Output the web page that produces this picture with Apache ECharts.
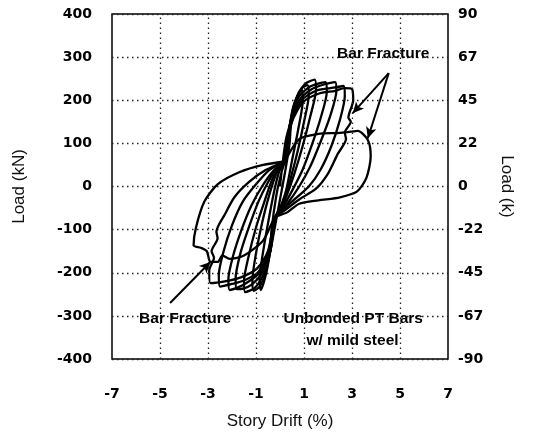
<!DOCTYPE html>
<html>
<head>
<meta charset="utf-8">
<script src="https://cdn.jsdelivr.net/npm/echarts@6/dist/echarts.min.js"></script>
<style>
html,body{margin:0;padding:0;background:#fff;}
#chart{width:534px;height:445px;}
</style>
</head>
<body>
<div id="chart"></div>
<script>
// ---- data (story drift %, load kN) ----
const cycle1 = [[0,0],[0.1,50],[0.25,110],[0.45,150],[0.4,100],[0.2,30],[0,-30],[-0.2,-90],[-0.4,-150],[-0.35,-100],[-0.15,-20],[0.05,30],[0.2,58]];
const cycle2 = [[0.2,58],[0.35,120],[0.55,185],[0.9,225],[0.95,200],[0.75,130],[0.5,60],[0.25,-10],[0,-50],[-0.2,-72],[-0.35,-130],[-0.55,-195],[-0.8,-240],[-0.85,-215],[-0.7,-150],[-0.45,-70],[-0.2,0],[0,40],[0.2,58]];
const cycle3a = [[0.2,58],[0.38,130],[0.62,195],[0.9,228],[1.15,235],[1.2,212],[1.0,150],[0.75,85],[0.45,20],[0.15,-35],[-0.2,-72],[-0.38,-140],[-0.6,-200],[-0.85,-232],[-1.1,-242],[-1.15,-218],[-1.0,-155],[-0.75,-85],[-0.45,-20],[-0.15,30],[0.2,58]];
const cycle3 = [[0.2,58],[0.4,140],[0.7,205],[1.05,238],[1.45,248],[1.5,225],[1.25,160],[0.95,95],[0.6,30],[0.25,-25],[0,-55],[-0.2,-72],[-0.4,-150],[-0.7,-205],[-1.05,-235],[-1.45,-245],[-1.5,-220],[-1.3,-160],[-1.0,-95],[-0.65,-35],[-0.3,20],[0,45],[0.2,58]];
const cycle4a = [[0.2,58],[0.42,145],[0.75,205],[1.2,230],[1.55,238],[1.9,242],[1.95,220],[1.7,160],[1.35,100],[0.95,40],[0.55,-5],[0.15,-45],[-0.2,-72],[-0.42,-150],[-0.8,-205],[-1.2,-228],[-1.5,-236],[-1.8,-238],[-1.85,-214],[-1.65,-155],[-1.3,-95],[-0.9,-35],[-0.5,10],[-0.1,45],[0.2,58]];
const cycle4 = [[0.2,58],[0.45,150],[0.8,200],[1.3,225],[1.8,236],[2.3,242],[2.35,222],[2.1,165],[1.7,105],[1.25,45],[0.8,0],[0.3,-40],[-0.2,-72],[-0.45,-155],[-0.85,-200],[-1.35,-222],[-1.75,-234],[-2.1,-240],[-2.15,-215],[-1.95,-160],[-1.6,-100],[-1.2,-45],[-0.75,0],[-0.3,35],[0.2,58]];
const cycle5a = [[0.2,58],[0.48,150],[0.9,200],[1.5,222],[2.1,228],[2.65,233],[2.7,210],[2.5,155],[2.15,95],[1.7,40],[1.2,0],[0.6,-30],[0.1,-55],[-0.2,-72],[-0.48,-150],[-0.9,-198],[-1.5,-218],[-2.0,-226],[-2.5,-232],[-2.55,-205],[-2.35,-150],[-2.0,-90],[-1.55,-35],[-1.0,5],[-0.45,38],[0.2,58]];
const cycle5 = [[0.2,58],[0.5,150],[0.95,195],[1.6,215],[2.3,222],[2.7,228],[3.0,226],[3.05,200],[2.85,160],[2.95,150],[2.7,125],[2.75,110],[2.4,75],[2.0,30],[1.5,-5],[0.8,-30],[0.2,-55],[-0.2,-72],[-0.5,-150],[-0.95,-190],[-1.6,-210],[-2.3,-220],[-2.9,-224],[-2.95,-195],[-2.75,-165],[-2.85,-150],[-2.6,-120],[-2.65,-105],[-2.3,-65],[-1.9,-25],[-1.3,10],[-0.6,38],[0.2,58]];
const cycle6 = [[0.2,58],[0.8,110],[1.6,122],[2.4,124],[2.82,126],[3.24,129],[3.66,108],[3.78,70],[3.6,20],[3.2,-12],[2.5,-25],[1.6,-32],[0.8,-40],[0.3,-60],[-0.2,-72],[-0.7,-125],[-1.5,-160],[-2.1,-168],[-2.4,-160],[-2.6,-175],[-2.9,-175],[-3.05,-150],[-3.3,-142],[-3.6,-136],[-3.5,-95],[-3.15,-35],[-2.6,5],[-1.7,33],[-0.7,50],[0.2,58]];
const cycles = [cycle1, cycle2, cycle3a, cycle3, cycle4a, cycle4, cycle5a, cycle5, cycle6];

const arrowTopA = [[4.53,263],[3.03,170]];
const arrowTopB = [[4.53,263],[3.66,112]];
const arrowBottom = [[-4.58,-270],[-2.9,-175]];
const arrows = [arrowTopA, arrowTopB, arrowBottom];

const noteTexts = ['Bar Fracture','Bar Fracture','Unbonded PT Bars','w/ mild steel'];
const notePoints = [[4.3,307],[-3.95,-307],[3.05,-307],[3.02,-358]];

const xGridValues = [-5,-3,-1,1,3,5];
const leftTicks = {min:-400, max:400, step:100};
const rightTicks = {min:-90, max:90, step:22.5};

// ---- chart ----
const FONT = 'Liberation Sans';
const TICKFONT = 'DejaVu Sans';
const dotted = {type:[1.5,3.5], color:'#222', width:1.3};
const chart = echarts.init(document.getElementById('chart'), null, {renderer:'canvas'});

const series = cycles.map(c => ({
  type:'line', data:c, showSymbol:false, smooth:0.25, animation:false, z:3,
  lineStyle:{color:'#000', width:2.3}
}));
series.push({
  type:'line', data:[], animation:false, z:2,
  markLine:{silent:true, symbol:'none', label:{show:false}, lineStyle:dotted, animation:false,
    data: xGridValues.map(v => ({xAxis:v}))}
});
series.push({
  type:'line', data:[], animation:false, z:4,
  markLine:{silent:true, symbol:['none','arrow'], symbolSize:[8,11], label:{show:false}, animation:false,
    lineStyle:{type:'solid', color:'#000', width:2},
    data: arrows.map(a => [{coord:a[0]},{coord:a[1]}])}
});

chart.setOption({
  backgroundColor:'#fff',
  animation:false,
  grid:{left:112, right:86, top:14, bottom:86, show:true, borderColor:'#000', borderWidth:1.5, backgroundColor:'transparent'},
  xAxis:{
    type:'value', min:-7, max:7, interval:1,
    name:'Story Drift (%)', nameLocation:'middle', nameGap:54,
    nameTextStyle:{fontFamily:FONT, fontSize:17, color:'#111'},
    axisLine:{show:false}, axisTick:{show:false}, splitLine:{show:false},
    axisLabel:{margin:28, fontFamily:TICKFONT, fontWeight:'bold', fontSize:14, color:'#000',
      formatter:v => (Math.abs(v) % 2 === 1 ? String(v) : '')}
  },
  yAxis:[{
    type:'value', min:leftTicks.min, max:leftTicks.max, interval:leftTicks.step, position:'left',
    name:'Load (kN)', nameLocation:'middle', nameGap:84,
    nameTextStyle:{fontFamily:FONT, fontSize:17, color:'#111'},
    axisLine:{show:false}, axisTick:{show:false},
    splitLine:{show:true, lineStyle:dotted},
    axisLabel:{margin:20, fontFamily:TICKFONT, fontWeight:'bold', fontSize:14, color:'#000'}
  },{
    type:'value', min:rightTicks.min, max:rightTicks.max, interval:rightTicks.step, position:'right',
    name:'Load (k)', nameLocation:'middle', nameGap:50, nameRotate:-90,
    nameTextStyle:{fontFamily:FONT, fontSize:17, color:'#111'},
    axisLine:{show:false}, axisTick:{show:false}, splitLine:{show:false},
    axisLabel:{margin:10, fontFamily:TICKFONT, fontWeight:'bold', fontSize:14, color:'#000',
      formatter:v => String(Math.trunc(v))}
  }],
  series: series
});

// annotation texts placed through the axes' scales
const graphics = notePoints.map((p, i) => {
  const px = chart.convertToPixel({xAxisIndex:0, yAxisIndex:0}, p);
  return {
    type:'text', x:px[0], y:px[1], z:10, silent:true,
    style:{text:noteTexts[i], fill:'#000', font:'bold 15.5px "Liberation Sans"', align:'center', verticalAlign:'middle'}
  };
});
chart.setOption({graphic: graphics});
</script>
</body>
</html>
